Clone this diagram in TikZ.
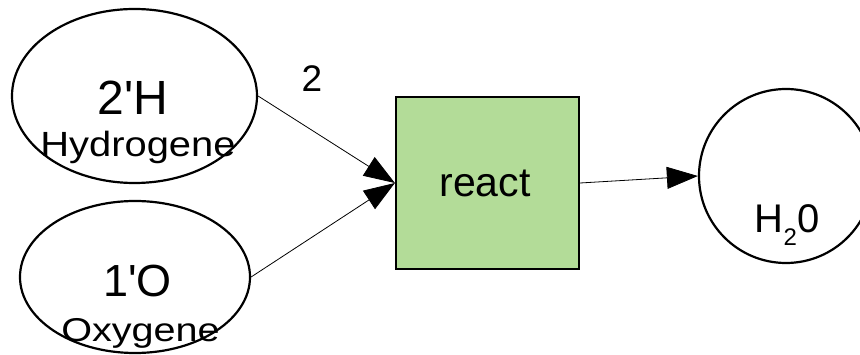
\documentclass[tikz,border=0pt]{standalone}
\usepackage{fontspec}
\setmainfont{Liberation Sans}[Ligatures=TeXOff]
\usetikzlibrary{arrows.meta,shapes.geometric}
\definecolor{reactgreen}{RGB}{179,220,152}
\newcommand{\fs}[1]{\fontsize{#1}{#1}\selectfont}
\begin{document}
\begin{tikzpicture}[x=1pt,y=-1pt,
  place/.style={draw,ellipse,line width=2.2pt,inner sep=0pt},
  trans/.style={draw,line width=2.2pt,fill=reactgreen,inner sep=0pt},
  arc/.style={line width=0.8pt,-{Triangle[length=31pt,width=22pt]}},
  lbl/.style={inner sep=0pt,anchor=base}]
\useasboundingbox (0,0) rectangle (860,355);
% places and transition
\node[place,minimum width=245pt,minimum height=174pt] (h) at (134.5,96) {};
\node[place,minimum width=230pt,minimum height=152pt] (o) at (135,277) {};
\node[trans,minimum width=183pt,minimum height=172pt] (r) at (487.5,183) {};
\node[place,circle,minimum size=174pt] (w) at (786,176) {};
% labels
\node[lbl] (hm) at (133,115) {\fs{48}2'H};
\node[lbl] (hn) at (138,157) {\fs{35}\scalebox{1.14}[1]{Hydrogene}};
\node[lbl] (om) at (137.5,297) {\fs{45}1'O};
\node[lbl] (on) at (140.5,342) {\fs{33}\scalebox{1.2}[1]{Oxygene}};
\node[lbl] (rl) at (485,197) {\fs{41}react};
\node[lbl] (wl) at (787,233) {\fs{40}H\raisebox{-13pt}{\fs{24}2}0};
\node[lbl] (al) at (312,92) {\fs{37}2};
% arcs
\draw[arc] (h.east) -- (r.west);
\draw[arc] (o.east) -- (r.west);
\draw[arc] (r.east) -- (w.west);
\end{tikzpicture}
\end{document}
